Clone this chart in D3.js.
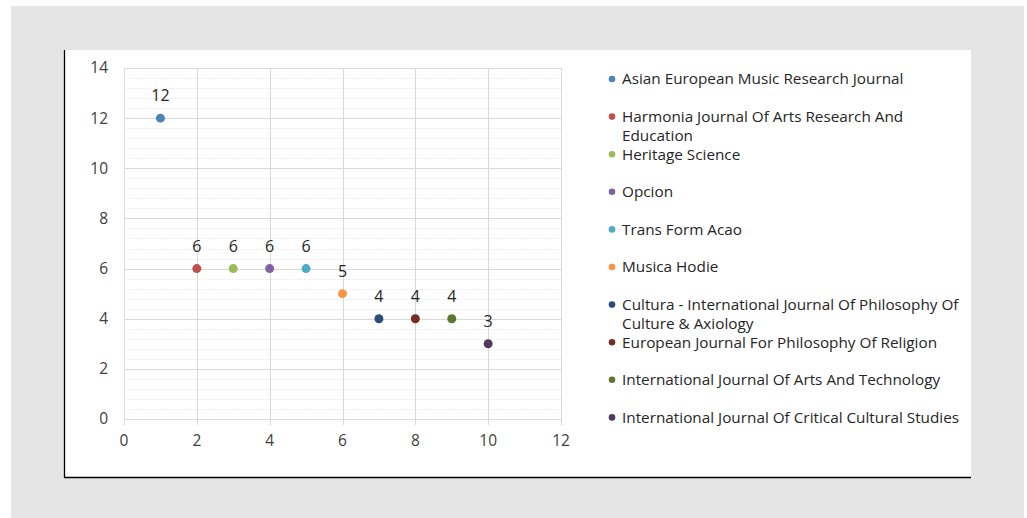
<!DOCTYPE html>
<html>
<head>
<meta charset="utf-8">
<script src="https://cdn.jsdelivr.net/npm/d3@7"></script>
<style>
  body { margin: 0; background: #fff; }
  text { font-family: "Open Sans", Lato, sans-serif; fill: #404040; }
</style>
</head>
<body>
<svg id="chart" width="1027" height="518"></svg>
<script>
/* journal names, x position (rank) and number of documents */
var journals = [
  "Asian European Music Research Journal",
  "Harmonia Journal Of Arts Research And Education",
  "Heritage Science",
  "Opcion",
  "Trans Form Acao",
  "Musica Hodie",
  "Cultura - International Journal Of Philosophy Of Culture & Axiology",
  "European Journal For Philosophy Of Religion",
  "International Journal Of Arts And Technology",
  "International Journal Of Critical Cultural Studies"
];
var ranks = [1, 2, 3, 4, 5, 6, 7, 8, 9, 10];
var counts = [12, 6, 6, 6, 6, 5, 4, 4, 4, 3];
var colors = ["#4F81BD", "#C0504D", "#9BBB59", "#8064A2", "#4BACC6", "#F79646",
              "#2C4D75", "#772C2A", "#5F7530", "#4D3B62"];
var xTicks = [0, 2, 4, 6, 8, 10, 12];
var yTicks = [0, 2, 4, 6, 8, 10, 12, 14];

var svg = d3.select("#chart");

/* grey page behind the chart, white chart panel with shadow edges */
svg.append("rect").attr("x", 11).attr("y", 6).attr("width", 1013).attr("height", 512).attr("fill", "#e5e5e5");
svg.append("rect").attr("x", 64).attr("y", 50).attr("width", 907).attr("height", 427).attr("fill", "#fff");
svg.append("line").attr("x1", 64.5).attr("x2", 64.5).attr("y1", 50).attr("y2", 477.5).attr("stroke", "#000").attr("stroke-width", 1.3);
svg.append("line").attr("x1", 64).attr("x2", 971).attr("y1", 477.5).attr("y2", 477.5).attr("stroke", "#000").attr("stroke-width", 1.3);

var x = d3.scaleLinear().domain([0, 12]).range([124, 561]);
var y = d3.scaleLinear().domain([0, 14]).range([419, 68]);

var g = svg.append("g");

/* minor horizontal gridlines */
g.selectAll(".minor")
  .data(d3.range(0, 14.01, 0.4))
  .enter().append("line")
    .attr("x1", x(0)).attr("x2", x(12))
    .attr("y1", function(d) { return Math.round(y(d)) + 0.5; })
    .attr("y2", function(d) { return Math.round(y(d)) + 0.5; })
    .attr("stroke", "#efefef").attr("stroke-dasharray", "2,1");

/* major gridlines */
g.selectAll(".hgrid")
  .data(yTicks)
  .enter().append("line")
    .attr("x1", x(0)).attr("x2", x(12))
    .attr("y1", function(d) { return Math.round(y(d)) + 0.5; })
    .attr("y2", function(d) { return Math.round(y(d)) + 0.5; })
    .attr("stroke", "#d9d9d9");

g.selectAll(".vgrid")
  .data(xTicks)
  .enter().append("line")
    .attr("x1", function(d) { return Math.round(x(d)) + 0.5; })
    .attr("x2", function(d) { return Math.round(x(d)) + 0.5; })
    .attr("y1", y(14)).attr("y2", y(0) + 6)
    .attr("stroke", "#d9d9d9");

/* tick labels */
g.selectAll(".ylab")
  .data(yTicks)
  .enter().append("text")
    .attr("x", 108)
    .attr("y", function(d) { return y(d); })
    .attr("dy", "0.35em")
    .attr("text-anchor", "end")
    .style("font-size", "15.5px")
    .text(function(d) { return d; });

g.selectAll(".xlab")
  .data(xTicks)
  .enter().append("text")
    .attr("x", function(d) { return x(d); })
    .attr("y", 446)
    .attr("text-anchor", "middle")
    .style("font-size", "15.5px")
    .text(function(d) { return d; });

/* points and data labels */
g.selectAll(".dot")
  .data(counts)
  .enter().append("circle")
    .attr("cx", function(d, i) { return x(ranks[i]); })
    .attr("cy", function(d) { return y(d); })
    .attr("r", 4.5)
    .attr("fill", function(d, i) { return colors[i]; });

g.selectAll(".val")
  .data(counts)
  .enter().append("text")
    .attr("x", function(d, i) { return x(ranks[i]); })
    .attr("y", function(d) { return y(d) - 17; })
    .attr("text-anchor", "middle")
    .style("font-size", "16px")
    .style("fill", "#262626")
    .text(function(d) { return d; });

/* legend */
var legend = svg.append("g");
var item = legend.selectAll(".item")
  .data(journals)
  .enter().append("g")
    .attr("transform", function(d, i) { return "translate(612," + (79 + i * 37.6) + ")"; });

item.append("circle").attr("r", 3.3).attr("fill", function(d, i) { return colors[i]; });

item.append("text")
  .attr("x", 10)
  .attr("dy", "0.35em")
  .style("font-size", "15.3px")
  .style("fill", "#262626")
  .each(function(d) {
    var t = d3.select(this), words = d.split(" "), line = [];
    var span = t.append("tspan").attr("x", 10);
    words.forEach(function(w) {
      line.push(w);
      span.text(line.join(" "));
      if (span.node().getComputedTextLength() > 345 && line.length > 1) {
        line.pop();
        span.text(line.join(" "));
        line = [w];
        span = t.append("tspan").attr("x", 10).attr("dy", 19).text(w);
      }
    });
  });
</script>
</body>
</html>
